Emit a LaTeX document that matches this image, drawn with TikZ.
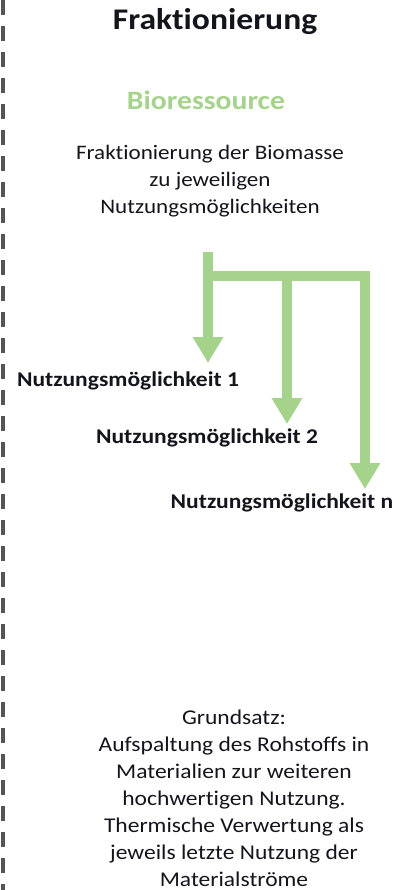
\documentclass[tikz,border=0pt]{standalone}
\usepackage{fontspec}
\setmainfont{Carlito}[FakeStretch=1.12, Ligatures=NoCommon]
\usetikzlibrary{arrows.meta}
\definecolor{leaf}{RGB}{166,211,140}
\definecolor{ink}{RGB}{20,20,28}
\definecolor{rule}{RGB}{85,85,85}
\tikzset{
  title/.style={font=\bfseries\fontsize{30}{34}\selectfont, text=ink, inner sep=0pt},
  source/.style={font=\bfseries\fontsize{26.5}{30}\selectfont, text=leaf, inner sep=0pt},
  body/.style={font=\fontsize{21}{27}\selectfont, text=ink, align=center, inner sep=0pt},
  usage/.style={font=\bfseries\fontsize{21}{24}\selectfont, text=ink, inner sep=0pt},
  flow/.style={draw=leaf, line width=10pt, line join=miter,
    -{Triangle[width=29pt,length=26pt]}},
  sep/.style={draw=rule, line width=4pt, dash pattern=on 15pt off 11pt}
}
\begin{document}
\begin{tikzpicture}[x=1pt,y=-1pt]
  \useasboundingbox (0,0) rectangle (408,890);
  % dashed separator on the left edge
  \coordinate (sepTop) at (3,0);
  \coordinate (sepBot) at (3,890);
  \draw[sep] (sepTop) -- (sepBot);

  % headings and description
  \node[title]  (head) at (215,22) {Fraktionierung};
  \node[source] (bio)  at (206,100) {Bioressource};
  \node[body, font=\fontsize{20.6}{27}\selectfont] (desc) at (210,181)
    {Fraktionierung der Biomasse\\zu jeweiligen\\Nutzungsmöglichkeiten};

  % usage options
  \node[usage] (u1) at (128,381) {Nutzungsmöglichkeit 1};
  \node[usage] (u2) at (207,438) {Nutzungsmöglichkeit 2};
  \node[usage] (u3) at (282,503) {Nutzungsmöglichkeit n};

  % branching flow
  \coordinate (stemTop) at (208,252);
  \coordinate (bar)     at (208,276);
  \coordinate (tip1)    at (208,363);
  \coordinate (tip2)    at (287,424);
  \coordinate (tip3)    at (365,489);
  \draw[flow] (stemTop) -- (tip1);
  \draw[flow] (bar) -- (bar -| tip3) -- (tip3);
  \draw[flow] (bar -| tip2) -- (tip2);

  % principle
  \node[body] (rule) at (234,798) {Grundsatz:\\Aufspaltung des Rohstoffs in\\Materialien zur weiteren\\hochwertigen Nutzung.\\Thermische Verwertung als\\jeweils letzte Nutzung der\\Materialströme};
\end{tikzpicture}
\end{document}
